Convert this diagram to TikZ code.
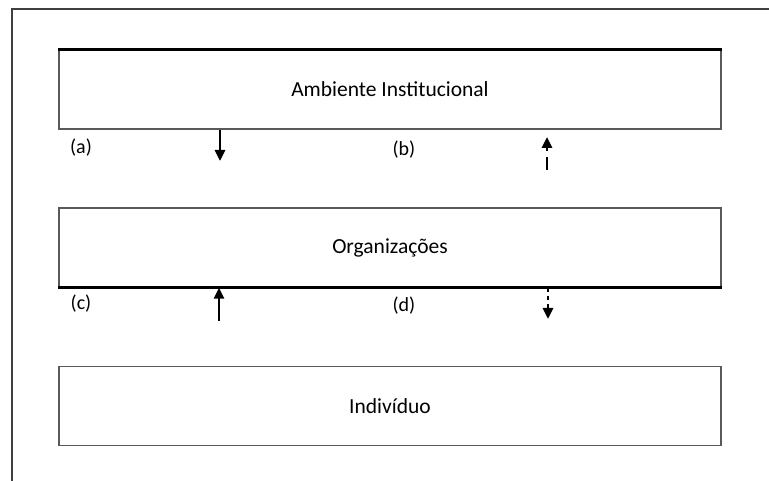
\documentclass[tikz,border=0pt]{standalone}
\usepackage{fontspec}
\setmainfont{Carlito}
\usetikzlibrary{arrows.meta}

\begin{document}
\begin{tikzpicture}[x=1pt, y=-1pt]
		\tikzset{lvl/.style={draw=black!65, line width=1.3pt, minimum width=662pt, minimum height=79pt, inner sep=0pt, font=\fontsize{21.5}{25}\selectfont},
			lbl/.style={font=\fontsize{20}{24}\selectfont},
			edge/.style={line width=2.4pt, black},
			arr/.style={line width=2.6pt, -{Triangle[width=10pt, length=11pt]}}};

		\useasboundingbox (0, 0) rectangle (769, 481);
		\draw[line width=1.2pt, black!75] (12, 481) -- (12, 9) -- (769, 9);

		\node[lvl] (inst) at (390, 89.5) {Ambiente Institucional};
		\node[lvl] (org) at (390, 247.5) {Organizações};
		\node[lvl] (ind) at (390, 406) {Indivíduo};

		\draw[edge] (inst.north west) -- (inst.north east);
		\draw[edge] (org.south west) -- (org.south east);

		\node[lbl] (la) at (81, 148) {(a)};
		\node[lbl] (lb) at (404, 150) {(b)};
		\node[lbl] (lc) at (81, 304) {(c)};
		\node[lbl] (ld) at (404, 306) {(d)};

		\coordinate (a1) at (220, 161);
		\coordinate (b0) at (547, 170);
		\coordinate (b1) at (547, 137);
		\coordinate (c0) at (219, 321);
		\coordinate (d1) at (548, 319);

		\draw[arr] (inst.south -| a1) -- (a1);
		\draw[arr, dash pattern=on 13pt off 6pt] (b0) -- (b1);
		\draw[arr] (c0) -- (org.south -| c0);
		\draw[arr, dash pattern=on 4pt off 4pt] (org.south -| d1) -- (d1);

	\end{tikzpicture}
\end{document}
